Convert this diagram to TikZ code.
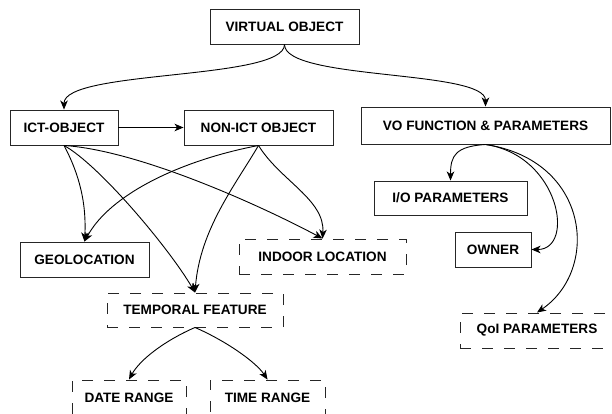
\documentclass[tikz,border=0pt]{standalone}
\usepackage{fontspec}
\setmainfont{Liberation Sans}
\usetikzlibrary{arrows.meta}
\begin{document}
\begin{tikzpicture}[x=1pt,y=-1pt,
  box/.style={draw=black!85,line width=0.95pt,inner sep=0pt,font=\fontsize{13.6}{16}\selectfont\bfseries},
  dbox/.style={box,dash pattern=on 11pt off 11pt},
  link/.style={line width=0.9pt,-{Stealth[length=9pt,width=7.5pt,inset=2.5pt]}}]
\useasboundingbox (0,0) rectangle (612,414);
\node[box,minimum width=149pt,minimum height=35pt] (vo) at (284.5,26.5) {VIRTUAL OBJECT};
\node[box,minimum width=108pt,minimum height=35pt] (ict) at (64,127.5) {ICT-OBJECT};
\node[box,minimum width=149pt,minimum height=35pt] (nonict) at (258.5,127.5) {NON-ICT OBJECT};
\node[box,minimum width=249pt,minimum height=37pt] (vof) at (485.5,125.5) {VO FUNCTION \& PARAMETERS};
\node[box,minimum width=153pt,minimum height=34pt] (io) at (450.5,198) {I/O PARAMETERS};
\node[box,minimum width=76pt,minimum height=35pt] (owner) at (493,249.5) {OWNER};
\node[dbox,minimum width=154pt,minimum height=35pt] (qoi) at (537,330.5) {QoI PARAMETERS};
\node[box,minimum width=129pt,minimum height=35pt] (geo) at (84.5,259.5) {GEOLOCATION};
\node[dbox,minimum width=167pt,minimum height=35pt] (indoor) at (322.5,256.5) {INDOOR LOCATION};
\node[dbox,minimum width=176pt,minimum height=34pt] (temp) at (195,310) {TEMPORAL FEATURE};
\node[dbox,minimum width=114pt,minimum height=35pt] (date) at (129,397.5) {DATE RANGE};
\node[dbox,minimum width=115pt,minimum height=35pt] (time) at (267.5,397.5) {TIME RANGE};

\draw[link] (vo.south) .. controls +(0,36) and +(0,-40) .. (ict.north);
\draw[link] (vo.south) .. controls +(0,36) and +(0,-37) .. (vof.north);
\draw[link] (ict.east) -- (nonict.west);
\draw[link] (ict.south) .. controls +(16,30) and +(2,-37) .. (geo.north);
\draw[link] (ict.south) .. controls +(36,20) and +(-25,-43) .. (temp.north);
\draw[link] (ict.south) .. controls +(76,5) and +(-60,-32) .. (indoor.north);
\draw[link] (nonict.south) .. controls +(-78.5,15) and +(25.5,-47) .. (geo.north);
\draw[link] (nonict.south) .. controls +(-23.5,40) and +(5,-63) .. (temp.north);
\draw[link] (nonict.south) .. controls +(21.5,35) and +(2.5,-39) .. (indoor.north);
\draw[link] (vof.south) .. controls +(-30,2) and +(0,-25) .. (io.north);
\draw[link] (vof.south) .. controls +(74.5,11) and +(44,0) .. (owner.east);
\draw[link] (vof.south) .. controls +(104.5,16) and +(63,-43) .. (qoi.north);
\draw[link] (temp.south) .. controls +(-30,13) and +(11,-20) .. (date.north);
\draw[link] (temp.south) .. controls +(30,13) and +(-12,-18) .. (time.north);
\end{tikzpicture}
\end{document}
